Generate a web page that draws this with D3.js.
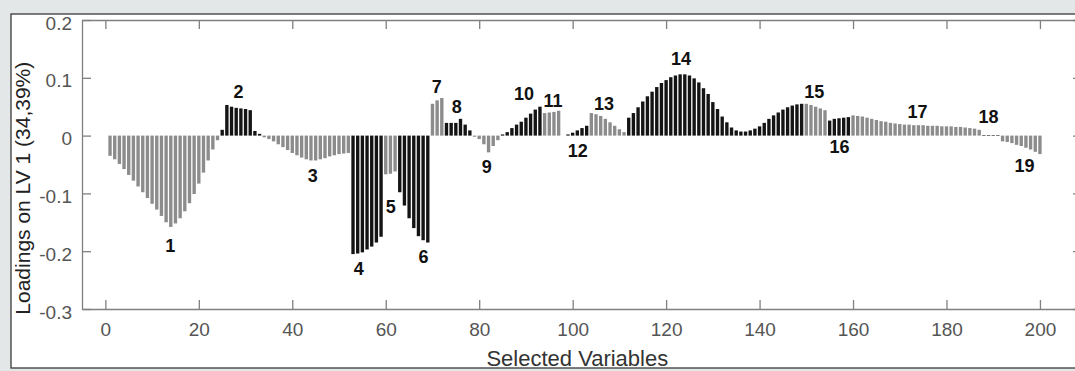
<!DOCTYPE html>
<html>
<head>
<meta charset="utf-8">
<script src="https://cdn.jsdelivr.net/npm/d3@7/dist/d3.min.js"></script>
<style>
  html, body { margin: 0; padding: 0; background: #e3e7e7; }
  svg { display: block; }
  text { font-family: "Liberation Sans", Arial, Helvetica, sans-serif; }
</style>
</head>
<body>
<script>
// Loadings of the first latent variable for 200 selected variables (index 1..200)
const loadings = [
  // group 1 (1-24)
  -0.035,-0.041,-0.049,-0.058,-0.068,-0.078,-0.088,-0.098,-0.108,-0.118,-0.128,-0.139,-0.150,-0.158,
  -0.152,-0.143,-0.131,-0.117,-0.101,-0.083,-0.064,-0.043,-0.024,-0.008,
  // group 2 (25-33)
  0.010,0.053,0.050,0.048,0.047,0.046,0.044,0.008,0.003,
  // group 3 (34-52)
  -0.003,-0.006,-0.010,-0.015,-0.020,-0.025,-0.030,-0.034,-0.038,-0.041,-0.043,-0.043,-0.041,-0.039,
  -0.036,-0.034,-0.032,-0.031,-0.030,
  // group 4 (53-59)
  -0.205,-0.204,-0.202,-0.197,-0.192,-0.185,-0.175,
  // group 5 (60-62)
  -0.067,-0.066,-0.062,
  // group 6 (63-69)
  -0.098,-0.121,-0.143,-0.160,-0.174,-0.181,-0.185,
  // group 7 (70-72)
  0.055,0.061,0.065,
  // group 8 (73-78)
  0.022,0.022,0.022,0.029,0.019,0.009,
  // group 9 (79-84)
  -0.002,-0.006,-0.015,-0.029,-0.018,-0.008,
  // group 10 (85-93)
  0.002,0.006,0.013,0.019,0.024,0.031,0.038,0.045,0.050,
  // group 11 (94-97)
  0.039,0.040,0.041,0.043,
  // group 12 (98-103)
  0.000,0.002,0.005,0.009,0.013,0.017,
  // group 13 (104-111)
  0.039,0.037,0.034,0.029,0.023,0.017,0.011,0.006,
  // group 14 (112-149)
  0.031,0.039,0.049,0.059,0.068,0.076,0.084,0.091,0.096,0.101,0.104,0.106,0.106,0.104,0.099,0.092,
  0.082,0.072,0.058,0.046,0.033,0.023,0.014,0.009,0.007,0.007,0.009,0.012,0.016,0.022,0.029,0.035,
  0.040,0.045,0.049,0.052,0.054,0.055,
  // group 15 (150-154)
  0.055,0.053,0.050,0.047,0.044,
  // group 16 (155-159)
  0.026,0.029,0.030,0.031,0.032,
  // group 17 (160-187)
  0.035,0.034,0.033,0.031,0.029,0.027,0.025,0.024,0.022,0.021,0.020,0.019,0.019,0.018,0.018,0.018,
  0.017,0.017,0.017,0.016,0.016,0.016,0.015,0.015,0.014,0.013,0.012,0.010,
  // group 18 (188-191)
  0.001,0.001,0.001,0.001,
  // group 19 (192-200)
  -0.010,-0.011,-0.013,-0.016,-0.018,-0.021,-0.024,-0.028,-0.032
];

// Last variable index of each numbered group (groups alternate grey / black)
const groupEnds = [24,33,52,59,62,69,72,78,84,93,97,103,111,149,154,159,187,191,200];
const groupNames = ["1","2","3","4","5","6","7","8","9","10","11","12","13","14","15","16","17","18","19"];
// Anchor of each group number, in data units (variable index, loading)
const labelX = [13.9,28.5,44.4,54.2,61.1,68.1,70.9,75.2,81.6,89.6,95.8,101.1,106.7,123.2,151.7,157.1,173.8,189.0,196.7];
const labelY = [-0.191,0.076,-0.070,-0.231,-0.123,-0.210,0.084,0.050,-0.054,0.072,0.060,-0.026,0.055,0.133,0.076,-0.020,0.041,0.032,-0.052];

const xTicks = [0,20,40,60,80,100,120,140,160,180,200];
const yTicks = [-0.3,-0.2,-0.1,0,0.1,0.2];
const xTitle = "Selected Variables";
const yTitle = "Loadings on LV 1 (34,39%)";

const W = 1075, H = 371;
const box = { left: 82, right: 1082, top: 20, bottom: 309 };

const svg = d3.select("body").append("svg").attr("width", W).attr("height", H);

// figure panel
svg.append("rect")
  .attr("x", 11).attr("y", 14).attr("width", W + 20).attr("height", 354)
  .attr("fill", "#ffffff");

const x = d3.scaleLinear().domain([-5, 209]).range([box.left, box.right]);
const y = d3.scaleLinear().domain([-0.3, 0.2]).range([box.bottom, box.top]);

const bars = loadings.map((v, i) => {
  const idx = i + 1;
  const g = groupEnds.findIndex(e => idx <= e);
  return { idx, v, g };
});

const barW = (x(1) - x(0)) * 0.72;
svg.append("g").selectAll("rect").data(bars).join("rect")
  .attr("x", d => x(d.idx) - barW / 2)
  .attr("width", barW)
  .attr("y", d => y(Math.max(0, d.v)))
  .attr("height", d => Math.abs(y(d.v) - y(0)))
  .attr("fill", d => d.g % 2 === 0 ? "#8c8c8c" : "#141414");

// axes box with inward ticks on all sides
const axisColor = "#808080";
const tickLen = 9;
const fmtY = d => d === 0 ? "0" : String(d);

const bottomAxis = d3.axisBottom(x).tickValues(xTicks).tickSizeInner(-tickLen).tickSizeOuter(0).tickPadding(14);
const topAxis = d3.axisTop(x).tickValues(xTicks).tickSizeInner(-tickLen).tickSizeOuter(0).tickFormat("");
const leftAxis = d3.axisLeft(y).tickValues(yTicks).tickSizeInner(-tickLen).tickSizeOuter(0).tickPadding(10).tickFormat(fmtY);
const rightAxis = d3.axisRight(y).tickValues(yTicks).tickSizeInner(-tickLen).tickSizeOuter(0).tickFormat("");

function styleAxis(g) {
  g.select(".domain").attr("stroke", axisColor).attr("stroke-width", 1.3);
  g.selectAll(".tick line").attr("stroke", axisColor).attr("stroke-width", 1.3);
  g.selectAll(".tick text").attr("fill", "#555555").attr("font-size", 19)
    .style("font-family", '"Liberation Sans", Arial, sans-serif');
}

svg.append("g").attr("transform", `translate(0,${box.bottom})`).call(bottomAxis).call(styleAxis);
svg.append("g").attr("transform", `translate(0,${box.top})`).call(topAxis).call(styleAxis);
svg.append("g").attr("transform", `translate(${box.left},0)`).call(leftAxis).call(styleAxis)
  .selectAll(".tick text").attr("dy", "0.48em");
svg.append("g").attr("transform", `translate(${box.right},0)`).call(rightAxis).call(styleAxis);

// group numbers
svg.append("g").selectAll("text").data(groupNames).join("text")
  .attr("x", (d, i) => x(labelX[i]))
  .attr("y", (d, i) => y(labelY[i]))
  .attr("text-anchor", "middle")
  .attr("dominant-baseline", "central")
  .attr("font-size", 18)
  .attr("font-weight", "bold")
  .attr("fill", "#111111")
  .text(d => d);

// axis titles
svg.append("text")
  .attr("x", x(101)).attr("y", 366)
  .attr("text-anchor", "middle")
  .attr("font-size", 22)
  .attr("fill", "#333333")
  .text(xTitle);

svg.append("text")
  .attr("transform", `translate(30,${y(-0.091)}) rotate(-90)`)
  .attr("text-anchor", "middle")
  .attr("font-size", 21)
  .attr("fill", "#222222")
  .text(yTitle);

// panel frame
svg.append("rect")
  .attr("x", 11).attr("y", 14).attr("width", W + 20).attr("height", 354)
  .attr("fill", "none").attr("stroke", "#3a3a3a").attr("stroke-width", 1.3);
</script>
</body>
</html>
